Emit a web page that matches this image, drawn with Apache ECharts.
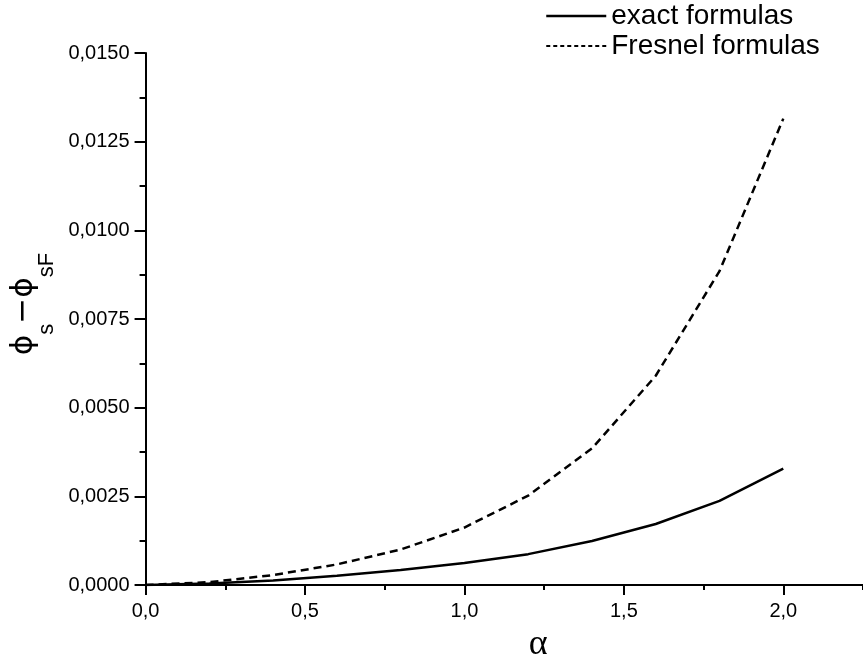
<!DOCTYPE html>
<html>
<head>
<meta charset="utf-8">
<script src="https://cdn.jsdelivr.net/npm/echarts@6/dist/echarts.min.js"></script>
<style>html,body{margin:0;padding:0;background:#fff;}#c{width:863px;height:668px;}</style>
</head>
<body>
<div id="c"></div>
<script>
const alpha = [0, 0.2, 0.4, 0.6, 0.8, 1.0, 1.2, 1.4, 1.6, 1.8, 2.0];
const exactValues = [0, 0.00004, 0.00013, 0.00026, 0.00042, 0.00062, 0.00087, 0.00124, 0.00172, 0.00237, 0.00328];
const fresnelValues = [0, 0.00008, 0.00028, 0.00058, 0.00100, 0.00162, 0.00252, 0.00385, 0.00590, 0.00885, 0.01315];
const seriesNames = ['exact formulas', 'Fresnel formulas'];
const xTicks = [0, 0.5, 1.0, 1.5, 2.0];
const yTicks = [0, 0.0025, 0.005, 0.0075, 0.01, 0.0125, 0.015];

const font = 'Liberation Sans, Arial, sans-serif';
const chart = echarts.init(document.getElementById('c'), null, {renderer: 'canvas'});
const pairs = (vals) => alpha.map((a, i) => [a, vals[i]]);

chart.setOption({
  animation: false,
  backgroundColor: '#fff',
  grid: {left: 143, right: -1, top: 53, bottom: 70, containLabel: false},
  legend: {
    orient: 'vertical',
    left: 540, top: -4,
    itemWidth: 60, itemHeight: 14, itemGap: 0,
    itemStyle: {opacity: 0},
    textStyle: {fontFamily: font, fontSize: 28, color: '#000', lineHeight: 30},
    data: [
      {name: seriesNames[0], lineStyle: {width: 2.5, type: 'solid', color: '#000'}},
      {name: seriesNames[1], lineStyle: {width: 2, type: [4, 3], color: '#000'}}
    ]
  },
  xAxis: [{
    type: 'value', min: 0, max: 2.25, interval: 0.5,
    name: 'α', nameLocation: 'middle', nameGap: 42,
    nameTextStyle: {fontFamily: 'Liberation Serif, DejaVu Serif, serif', fontSize: 36, color: '#000', padding: [0, 0, 0, 68]},
    axisLine: {show: true, onZero: false, lineStyle: {color: '#000', width: 2}},
    axisTick: {show: true, inside: false, length: 10, lineStyle: {color: '#000', width: 2}},
    axisLabel: {
      fontFamily: font, fontSize: 20, color: '#000', margin: 16,
      showMaxLabel: false,
      formatter: (v) => xTicks.some(t => Math.abs(t - v) < 1e-9) ? v.toFixed(1).replace('.', ',') : ''
    },
    splitLine: {show: false}
  }, {
    type: 'value', min: 0, max: 2.25, interval: 0.25, position: 'bottom',
    axisLine: {show: false},
    axisTick: {show: true, inside: false, length: 5, lineStyle: {color: '#000', width: 2}},
    axisLabel: {show: false},
    splitLine: {show: false}
  }],
  yAxis: {
    type: 'value', min: 0, max: 0.015, interval: 0.0025,
    name: '{p|ϕ}{sub|s}{p|−ϕ}{sub|sF}',
    nameLocation: 'middle', nameGap: 98, nameRotate: 90,
    nameTextStyle: {
      color: '#000', padding: [0, 0, 0, 30],
      rich: {
        p: {fontFamily: 'DejaVu Sans, sans-serif', fontSize: 31, color: '#000', lineHeight: 40, verticalAlign: 'middle'},
        sub: {fontFamily: font, fontSize: 22, color: '#000', lineHeight: 40, verticalAlign: 'bottom', padding: [0, 0, -14, 0]}
      }
    },
    axisLine: {show: true, lineStyle: {color: '#000', width: 2}},
    axisTick: {show: true, inside: false, length: 11, lineStyle: {color: '#000', width: 2}},
    minorTick: {show: true, splitNumber: 2, length: 6, lineStyle: {color: '#000', width: 2}},
    axisLabel: {
      fontFamily: font, fontSize: 20, color: '#000', margin: 16,
      formatter: (v) => yTicks.some(t => Math.abs(t - v) < 1e-12) ? v.toFixed(4).replace('.', ',') : ''
    },
    splitLine: {show: false}
  },
  series: [
    {name: seriesNames[0], type: 'line', data: pairs(exactValues), symbol: 'none', smooth: false,
     lineStyle: {color: '#000', width: 2.5, type: 'solid'}, itemStyle: {color: '#000'}},
    {name: seriesNames[1], type: 'line', data: pairs(fresnelValues), symbol: 'none', smooth: false,
     lineStyle: {color: '#000', width: 2.5, type: [8, 5]}, itemStyle: {color: '#000'}}
  ]
});
</script>
</body>
</html>
